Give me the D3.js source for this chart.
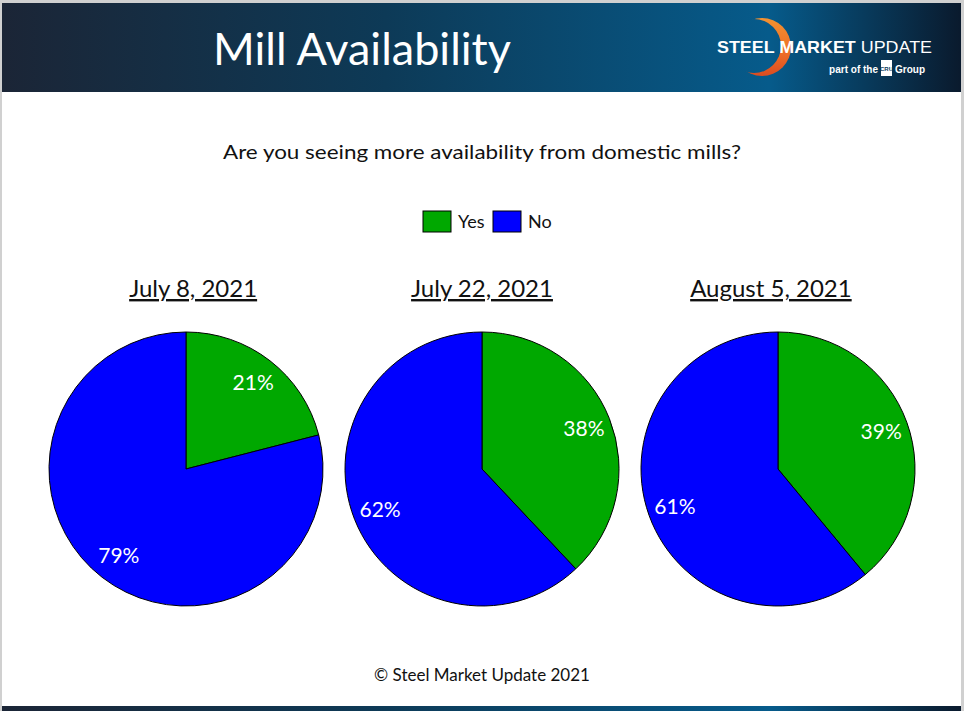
<!DOCTYPE html>
<html>
<head>
<meta charset="utf-8">
<title>Mill Availability</title>
<script src="https://cdn.jsdelivr.net/npm/d3@7"></script>
<style>
  html, body { margin: 0; padding: 0; background: #fff; }
  svg { display: block; }
</style>
</head>
<body>
<script>
  // survey data
  var dates = ["July 8, 2021", "July 22, 2021", "August 5, 2021"];
  var categories = ["Yes", "No"];
  var yesValues = [21, 38, 39];
  var noValues = [79, 62, 61];

  var w = 964, h = 711;
  var font = "Lato, 'Open Sans', sans-serif";

  var svg = d3.select("body").append("svg")
    .attr("width", w)
    .attr("height", h);

  var defs = svg.append("defs");

  var band = defs.append("linearGradient")
    .attr("id", "band")
    .attr("x1", "0%").attr("x2", "100%");
  band.append("stop").attr("offset", "0%").attr("stop-color", "#1b2536");
  band.append("stop").attr("offset", "40%").attr("stop-color", "#0d3a57");
  band.append("stop").attr("offset", "80%").attr("stop-color", "#065b8b");
  band.append("stop").attr("offset", "100%").attr("stop-color", "#0a1a2d");

  var moon = defs.append("linearGradient")
    .attr("id", "moon")
    .attr("x1", "0%").attr("x2", "0%").attr("y1", "0%").attr("y2", "100%");
  moon.append("stop").attr("offset", "0%").attr("stop-color", "#f7a535");
  moon.append("stop").attr("offset", "55%").attr("stop-color", "#ec6a26");
  moon.append("stop").attr("offset", "100%").attr("stop-color", "#c42a1c");

  var mask = defs.append("mask").attr("id", "moonMask");
  mask.append("rect").attr("x", 700).attr("y", 0).attr("width", 120).attr("height", 100).attr("fill", "black");
  mask.append("circle").attr("cx", 762).attr("cy", 47).attr("r", 29).attr("fill", "white");
  mask.append("circle").attr("cx", 754).attr("cy", 46).attr("r", 27).attr("fill", "black");

  // page frame
  svg.append("rect").attr("width", w).attr("height", h).attr("fill", "#d0d0d0");
  svg.append("rect").attr("x", 2).attr("y", 3).attr("width", w - 5).attr("height", h - 3).attr("fill", "#fff");

  // header band
  svg.append("rect")
    .attr("x", 2).attr("y", 3)
    .attr("width", w - 5).attr("height", 89)
    .attr("fill", "url(#band)");
  svg.append("rect")
    .attr("x", 2).attr("y", 706)
    .attr("width", w - 5).attr("height", 5)
    .attr("fill", "url(#band)");

  svg.append("text")
    .attr("x", 362).attr("y", 65)
    .attr("text-anchor", "middle")
    .attr("font-family", font)
    .attr("font-size", 45)
    .attr("fill", "white")
    .text("Mill Availability");

  // logo
  svg.append("rect")
    .attr("x", 700).attr("y", 0).attr("width", 120).attr("height", 100)
    .attr("fill", "url(#moon)")
    .attr("mask", "url(#moonMask)");

  var logo = svg.append("text")
    .attr("x", 717).attr("y", 53)
    .attr("font-family", "'Liberation Sans', Arial, sans-serif")
    .attr("font-size", 17)
    .attr("fill", "white");
  logo.append("tspan").attr("font-weight", "bold").text("STEEL MARKET ");
  logo.append("tspan").text("UPDATE");
  logo.attr("textLength", 215).attr("lengthAdjust", "spacingAndGlyphs");

  svg.append("text")
    .attr("x", 878).attr("y", 73)
    .attr("text-anchor", "end")
    .attr("font-family", "'Liberation Sans', Arial, sans-serif")
    .attr("font-size", 10).attr("font-weight", "bold")
    .attr("fill", "white")
    .text("part of the");
  svg.append("rect")
    .attr("x", 881).attr("y", 60).attr("width", 11).attr("height", 16)
    .attr("fill", "white");
  svg.append("text")
    .attr("x", 886.5).attr("y", 71)
    .attr("text-anchor", "middle")
    .attr("font-family", "'Liberation Sans', Arial, sans-serif")
    .attr("font-size", 6).attr("font-weight", "bold")
    .attr("fill", "#0b3a5c")
    .text("CRU");
  svg.append("text")
    .attr("x", 895).attr("y", 73)
    .attr("font-family", "'Liberation Sans', Arial, sans-serif")
    .attr("font-size", 10).attr("font-weight", "bold")
    .attr("fill", "white")
    .text("Group");

  // question
  svg.append("text")
    .attr("x", 482).attr("y", 159)
    .attr("text-anchor", "middle")
    .attr("font-family", font)
    .attr("font-size", 20)
    .attr("textLength", 518)
    .attr("lengthAdjust", "spacingAndGlyphs")
    .attr("fill", "#111")
    .text("Are you seeing more availability from domestic mills?");

  var color = d3.scaleOrdinal()
    .domain(categories)
    .range(["#00a800", "#0000ff"]);

  // legend
  var legendX = d3.scalePoint().domain(categories).range([423, 493]);
  var legend = svg.selectAll("g.legend")
    .data(categories)
    .enter()
    .append("g")
    .attr("class", "legend")
    .attr("transform", function(d) { return "translate(" + legendX(d) + ", 211)"; });

  legend.append("rect")
    .attr("width", 28).attr("height", 21)
    .attr("fill", function(d) { return color(d); })
    .attr("stroke", "black")
    .attr("stroke-width", 1);

  legend.append("text")
    .attr("x", 35).attr("y", 17)
    .attr("font-family", font)
    .attr("font-size", 18)
    .attr("fill", "#111")
    .text(function(d) { return d; });

  // pies
  var radius = 137;
  var cx = d3.scalePoint().domain(dates).range([186, 778]);
  var cy = 469;

  var pie = d3.pie().sort(null).value(function(d) { return d.value; });
  var arc = d3.arc().innerRadius(0).outerRadius(radius);
  var labelArc = d3.arc().innerRadius(radius * 0.8).outerRadius(radius * 0.8);

  var surveys = dates.map(function(d, i) {
    return {
      date: d,
      slices: [
        {key: categories[0], value: yesValues[i]},
        {key: categories[1], value: noValues[i]}
      ]
    };
  });

  var groups = svg.selectAll("g.survey")
    .data(surveys)
    .enter()
    .append("g")
    .attr("class", "survey")
    .attr("transform", function(d) { return "translate(" + cx(d.date) + ", " + cy + ")"; });

  // date headings, pulled slightly toward the middle like the slide
  groups.append("text")
    .attr("x", function(d) { return (482 - cx(d.date)) * 0.024; })
    .attr("y", -172)
    .attr("text-anchor", "middle")
    .attr("font-family", font)
    .attr("font-size", 24)
    .attr("text-decoration", "underline")
    .attr("fill", "#111")
    .text(function(d) { return d.date; });

  var slices = groups.selectAll("g.slice")
    .data(function(d) { return pie(d.slices); })
    .enter()
    .append("g")
    .attr("class", "slice");

  slices.append("path")
    .attr("d", arc)
    .attr("fill", function(d) { return color(d.data.key); })
    .attr("stroke", "black")
    .attr("stroke-width", 1);

  slices.append("text")
    .attr("transform", function(d) { return "translate(" + labelArc.centroid(d) + ")"; })
    .attr("text-anchor", "middle")
    .attr("dy", "0.36em")
    .attr("font-family", font)
    .attr("font-size", 21)
    .attr("fill", "white")
    .text(function(d) { return d.data.value + "%"; });

  // footer
  svg.append("text")
    .attr("x", 482).attr("y", 681)
    .attr("text-anchor", "middle")
    .attr("font-family", font)
    .attr("font-size", 17)
    .attr("fill", "#111")
    .text("\u00a9 Steel Market Update 2021");
</script>
</body>
</html>
